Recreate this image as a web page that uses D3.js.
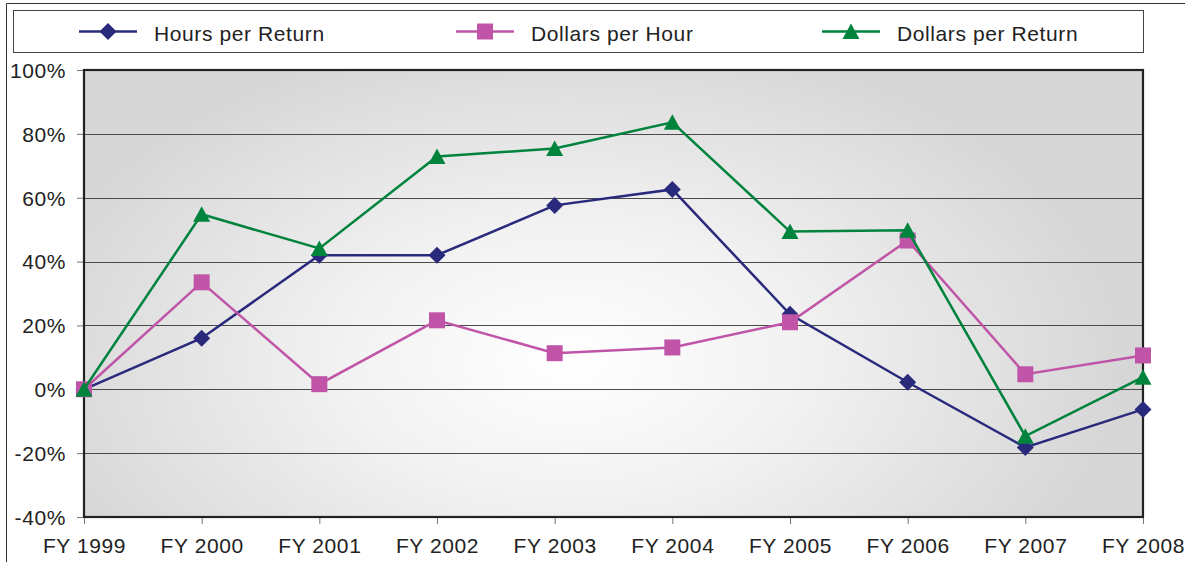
<!DOCTYPE html>
<html>
<head>
<meta charset="utf-8">
<script src="https://cdn.jsdelivr.net/npm/d3@7"></script>
<style>
  body { margin: 0; background: #fff; }
  svg { display: block; font-family: "Liberation Sans", Arial, sans-serif; }
</style>
</head>
<body>
<div id="chartContainer"></div>
<script>
const years = ["FY 1999", "FY 2000", "FY 2001", "FY 2002", "FY 2003", "FY 2004", "FY 2005", "FY 2006", "FY 2007", "FY 2008"];
const hoursPerReturn = [0, 16, 42, 42, 57.6, 62.6, 23.5, 2.2, -18.2, -6.3];
const dollarsPerHour = [0, 33.5, 1.6, 21.6, 11.3, 13.1, 21, 46.6, 4.7, 10.6];
const dollarsPerReturn = [0, 54.8, 44.1, 72.9, 75.4, 83.6, 49.4, 49.8, -14.7, 3.8];
const yTicks = [-40, -20, 0, 20, 40, 60, 80, 100];

// marker shapes drawn around (0,0)
const markerPaths = {
  diamond: "M0,-8.5 L8.5,0 L0,8.5 L-8.5,0 Z",
  square: "M-8,-8 H8 V8 H-8 Z",
  triangle: "M0,-8 L8.5,7.5 L-8.5,7.5 Z"
};

const series = [
  { name: "Hours per Return", values: hoursPerReturn, color: "#2a2a7c", marker: "diamond" },
  { name: "Dollars per Hour", values: dollarsPerHour, color: "#c055a8", marker: "square" },
  { name: "Dollars per Return", values: dollarsPerReturn, color: "#00843d", marker: "triangle" }
];

const svgWidth = 1185;
const svgHeight = 562;
const margin = { top: 70, right: 42, bottom: 45, left: 84 };
const fontSize = 21;
const letterSpacing = 0.6;

const svg = d3.select("#chartContainer")
  .append("svg")
  .attr("width", svgWidth)
  .attr("height", svgHeight);

// outer frame (cut off at right/bottom like the original)
svg.append("path")
  .attr("d", "M6.5,600 V3.5 H1190")
  .attr("fill", "none")
  .attr("stroke", "#333")
  .attr("stroke-width", 1);

const xScale = d3.scalePoint()
  .domain(years)
  .range([margin.left, svgWidth - margin.right]);

const yScale = d3.scaleLinear()
  .domain([-40, 100])
  .range([svgHeight - margin.bottom, margin.top]);

const plotW = svgWidth - margin.right - margin.left;
const plotH = svgHeight - margin.bottom - margin.top;

// background gradient
const defs = svg.append("defs");
const grad = defs.append("radialGradient")
  .attr("id", "bg")
  .attr("gradientUnits", "userSpaceOnUse")
  .attr("cx", 570).attr("cy", 360)
  .attr("r", 560)
  .attr("gradientTransform", "translate(570,360) scale(1,0.6) translate(-570,-360)");
grad.append("stop").attr("offset", "0%").attr("stop-color", "#ffffff");
grad.append("stop").attr("offset", "40%").attr("stop-color", "#f2f2f2");
grad.append("stop").attr("offset", "100%").attr("stop-color", "#d6d6d6");

svg.append("rect")
  .attr("x", margin.left)
  .attr("y", margin.top)
  .attr("width", plotW)
  .attr("height", plotH)
  .attr("fill", "url(#bg)");

// gridlines
svg.append("g")
  .selectAll("line")
  .data(yTicks.filter(t => t > -40 && t < 100))
  .enter()
  .append("line")
  .attr("x1", margin.left)
  .attr("x2", svgWidth - margin.right)
  .attr("y1", d => Math.round(yScale(d)) + 0.5)
  .attr("y2", d => Math.round(yScale(d)) + 0.5)
  .attr("stroke", "#4a4a4a")
  .attr("stroke-width", 1.2);

// axes
const yAxis = d3.axisLeft(yScale)
  .tickValues(yTicks)
  .tickFormat(d => d + "%")
  .tickSize(7)
  .tickPadding(11);

svg.append("g")
  .attr("transform", `translate(${margin.left}, 0)`)
  .call(yAxis)
  .call(g => g.select(".domain").remove())
  .call(g => g.selectAll("line").attr("stroke", "#777"))
  .call(g => g.selectAll("text")
    .attr("font-size", fontSize)
    .attr("letter-spacing", letterSpacing)
    .attr("fill", "#222")
    .attr("dy", "0.35em"));

const xAxis = d3.axisBottom(xScale)
  .tickSize(7)
  .tickPadding(14);

svg.append("g")
  .attr("transform", `translate(0, ${svgHeight - margin.bottom})`)
  .call(xAxis)
  .call(g => g.select(".domain").remove())
  .call(g => g.selectAll("line").attr("stroke", "#777"))
  .call(g => g.selectAll("text")
    .attr("font-size", fontSize)
    .attr("letter-spacing", letterSpacing)
    .attr("fill", "#222"));

// plot border
svg.append("rect")
  .attr("x", margin.left)
  .attr("y", margin.top)
  .attr("width", plotW)
  .attr("height", plotH)
  .attr("fill", "none")
  .attr("stroke", "#222")
  .attr("stroke-width", 2.2);

// lines and markers
const line = d3.line()
  .x((d, i) => xScale(years[i]))
  .y(d => yScale(d));

series.forEach(s => {
  svg.append("path")
    .datum(s.values)
    .attr("d", line)
    .attr("fill", "none")
    .attr("stroke", s.color)
    .attr("stroke-width", 2.5);

  svg.append("g")
    .selectAll("path")
    .data(s.values)
    .enter()
    .append("path")
    .attr("d", markerPaths[s.marker])
    .attr("transform", (d, i) => `translate(${xScale(years[i])}, ${yScale(d)})`)
    .attr("fill", s.color);
});

// legend
const legend = svg.append("g");
legend.append("rect")
  .attr("x", 13.5)
  .attr("y", 10.5)
  .attr("width", 1130)
  .attr("height", 42)
  .attr("fill", "#fff")
  .attr("stroke", "#444")
  .attr("stroke-width", 1);

const legendX = [79, 456, 822];
series.forEach((s, i) => {
  const g = legend.append("g").attr("transform", `translate(${legendX[i]}, 31.5)`);
  g.append("line")
    .attr("x1", 0).attr("x2", 58)
    .attr("y1", 0).attr("y2", 0)
    .attr("stroke", s.color)
    .attr("stroke-width", 2.5);
  g.append("path")
    .attr("d", markerPaths[s.marker])
    .attr("transform", "translate(29, 0)")
    .attr("fill", s.color);
  g.append("text")
    .attr("x", 75)
    .attr("y", 9.5)
    .attr("font-size", fontSize)
    .attr("letter-spacing", letterSpacing)
    .attr("fill", "#222")
    .text(s.name);
});
</script>
</body>
</html>
